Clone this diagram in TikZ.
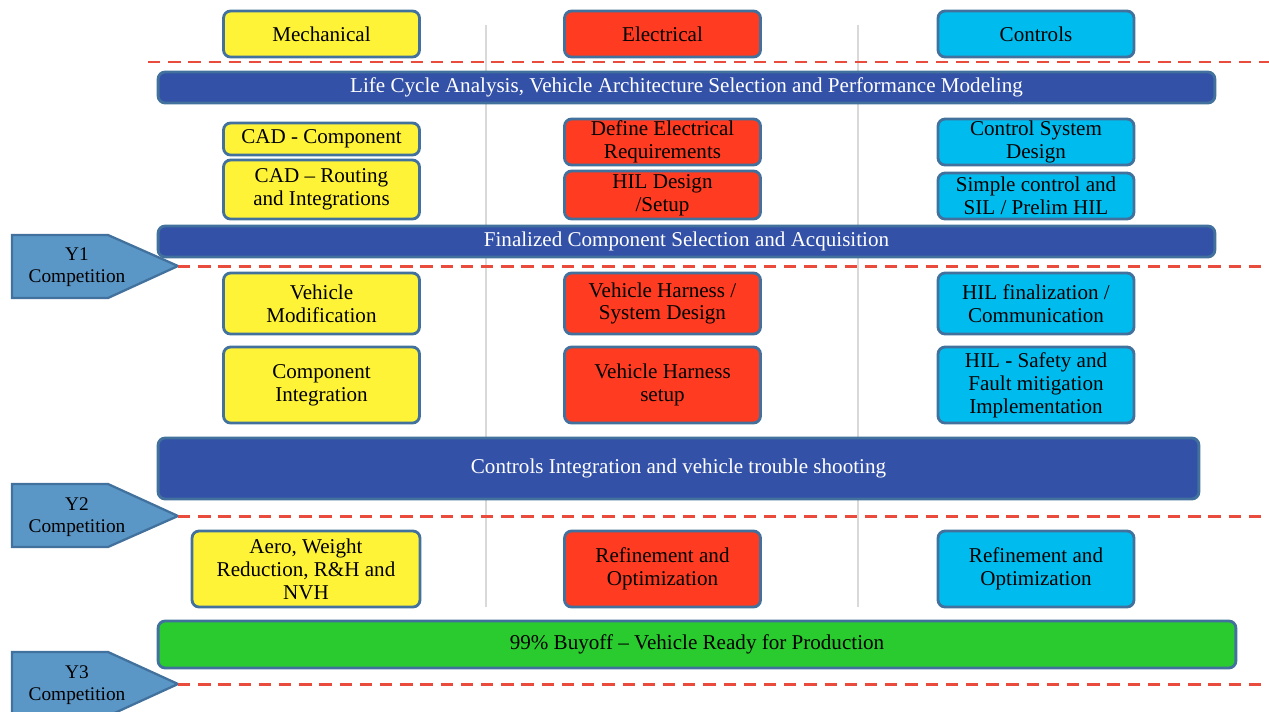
\documentclass[tikz,border=0pt]{standalone}
\usepackage{fontspec}
\setmainfont{Liberation Serif}
\definecolor{edge}{HTML}{41719C}
\definecolor{barblue}{HTML}{3451A8}
\definecolor{mechyel}{HTML}{FFF338}
\definecolor{elecred}{HTML}{FF3B21}
\definecolor{ctrlcyan}{HTML}{00BCEE}
\definecolor{okgreen}{HTML}{2ACB2F}
\definecolor{yrblue}{HTML}{5A97C7}
\definecolor{sepred}{HTML}{E94B3C}
\definecolor{gridgray}{HTML}{D9D9D9}

\begin{document}
\begin{tikzpicture}[x=0.02cm, y=-0.02cm,
    box/.style = {draw=edge, line width=1.6pt, rounded corners=4pt, align=center, inner sep=1pt,
                  minimum width=3.92cm, font=\fontsize{12}{13}\selectfont},
    mech/.style = {box, fill=mechyel},
    elec/.style = {box, fill=elecred},
    ctrl/.style = {box, fill=ctrlcyan},
    bar/.style = {draw=edge, line width=1.6pt, rounded corners=4pt, align=center, inner sep=1pt,
                  fill=barblue, text=white, font=\fontsize{12}{13}\selectfont},
    sep/.style = {draw=sepred, line width=1.7pt, dash pattern=on 7pt off 4.5pt},
    yr/.style = {fill=yrblue, draw=edge, line width=1.3pt},
    yrtext/.style = {align=center, font=\fontsize{11}{12.5}\selectfont}]
    \useasboundingbox (0,0) rectangle (1269,711);

    % column guides
    \draw[gridgray, line width=0.8pt] (486,25) -- (486,607);
    \draw[gridgray, line width=0.8pt] (858,25) -- (858,607);

    % year markers
    \draw[yr] (12,235) -- (108,235) -- (178,266) -- (108,298) -- (12,298) -- cycle;
    \draw[yr] (12,484) -- (108,484) -- (178,516) -- (108,547) -- (12,547) -- cycle;
    \draw[yr] (12,652) -- (108,652) -- (178,684) -- (108,716) -- (12,716) -- cycle;
    \node at (77,267) [yrtext] (y1) {Y1\\Competition};
    \node at (77,517) [yrtext] (y2) {Y2\\Competition};
    \node at (77,685) [yrtext] (y3) {Y3\\Competition};
    \coordinate (tip0) at (148,62);
    \coordinate (tip1) at (178,266);
    \coordinate (tip2) at (178,516);
    \coordinate (tip3) at (178,684);

    % separators
    \draw[sep] (tip0) -- (1269,62);
    \draw[sep] (tip1) -- (1269,266);
    \draw[sep] (tip2) -- (1269,516);
    \draw[sep] (tip3) -- (1269,684);

    % headers
    \node at (321.5,34) [mech, minimum height=0.92cm] (mechh) {Mechanical};
    \node at (662.5,34) [elec, minimum height=0.92cm] (elech) {Electrical};
    \node at (1036,34)  [ctrl, minimum height=0.92cm] (ctrlh) {Controls};

    \node at (686.5,87.5) [bar, minimum width=21.14cm, minimum height=0.62cm] (lca)
        {Life Cycle Analysis, Vehicle Architecture Selection and Performance Modeling};

    \node at (321.5,139)   [mech, minimum height=0.64cm] (cadcomp) {CAD - Component};
    \node at (321.5,189.5) [mech, minimum height=1.18cm] (cadrout) {CAD -- Routing\\and Integrations};
    \node at (662.5,142)   [elec, minimum height=0.92cm] (elreq) {Define Electrical\\Requirements};
    \node at (662.5,195)   [elec, minimum height=0.96cm] (hildes) {HIL Design\\ /Setup};
    \node at (1036,142)    [ctrl, minimum height=0.92cm] (ctrlsys) {Control System\\Design};
    \node at (1036,196)    [ctrl, minimum height=0.92cm] (simple) {Simple control and\\SIL / Prelim HIL};

    \node at (686.5,241.5) [bar, minimum width=21.14cm, minimum height=0.62cm] (fcs)
        {Finalized Component Selection and Acquisition};

    \node at (321.5,303.5) [mech, minimum height=1.22cm] (vehmod) {Vehicle\\Modification};
    \node at (662.5,303.5) [elec, minimum height=1.22cm] (harnsys) {Vehicle Harness /\\System Design};
    \node at (1036,303.5)  [ctrl, minimum height=1.22cm] (hilfin) {HIL finalization /\\Communication};
    \node at (321.5,385)   [mech, minimum height=1.52cm] (compint) {Component\\Integration};
    \node at (662.5,385)   [elec, minimum height=1.52cm] (harnset) {Vehicle Harness\\setup};
    \node at (1036,385)    [ctrl, minimum height=1.52cm] (hilsafe) {HIL - Safety and\\Fault mitigation\\Implementation};

    \node at (678.5,468.5) [bar, minimum width=20.82cm, minimum height=1.22cm] (cit)
        {Controls Integration and vehicle trouble shooting};

    \node at (306,569)     [mech, minimum width=4.56cm, minimum height=1.52cm] (aero) {Aero, Weight\\Reduction, R\&H and\\NVH};
    \node at (662.5,569)   [elec, minimum height=1.52cm] (refel) {Refinement and\\Optimization};
    \node at (1036,569)    [ctrl, minimum height=1.52cm] (refct) {Refinement and\\Optimization};

    \node at (697,644.5) [bar, fill=okgreen, text=black, minimum width=21.56cm, minimum height=0.94cm] (buyoff)
        {99\% Buyoff -- Vehicle Ready for Production};
\end{tikzpicture}
\end{document}
